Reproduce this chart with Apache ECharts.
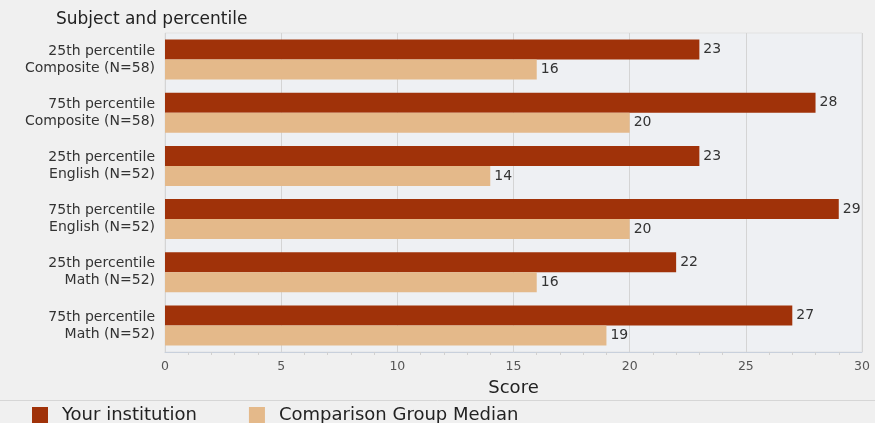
<!DOCTYPE html>
<html>
<head>
<meta charset="utf-8">
<script src="https://cdn.jsdelivr.net/npm/echarts@6/dist/echarts.min.js"></script>
<style>
  html, body { margin: 0; padding: 0; background: #f0f0f0; }
  #chart { width: 875px; height: 423px; }
</style>
</head>
<body>
<div id="chart"></div>
<script>
// Subject / percentile groups, top to bottom
const categories = [
  '25th percentile\nComposite (N=58)',
  '75th percentile\nComposite (N=58)',
  '25th percentile\nEnglish (N=52)',
  '75th percentile\nEnglish (N=52)',
  '25th percentile\nMath (N=52)',
  '75th percentile\nMath (N=52)'
];
const yourInstitution = [23, 28, 23, 29, 22, 27];
const comparisonMedian = [16, 20, 14, 20, 16, 19];
const xTicks = [0, 5, 10, 15, 20, 25, 30];

const chart = echarts.init(document.getElementById('chart'), null, { renderer: 'canvas' });
const font = 'DejaVu Sans, Verdana, sans-serif';

chart.setOption({
  backgroundColor: '#f0f0f0',
  animation: false,
  textStyle: { fontFamily: font },
  grid: {
    left: 165, right: 13, top: 33, bottom: 71,
    show: true, backgroundColor: '#eef0f3', borderColor: '#e2e2e2', borderWidth: 1
  },
  title: {
    text: 'Subject and percentile',
    left: 51, top: 6,
    textStyle: { fontFamily: font, fontSize: 17, fontWeight: 'normal', color: '#222' }
  },
  legend: {
    top: 401, left: 27, itemGap: 52,
    itemWidth: 16, itemHeight: 16,
    icon: 'rect',
    textStyle: { fontFamily: font, fontSize: 18, color: '#222', padding: [0, 0, 0, 9] },
    data: ['Your institution', 'Comparison Group Median']
  },
  graphic: [{
    type: 'line', shape: { x1: 0, y1: 400.5, x2: 875, y2: 400.5 },
    style: { stroke: '#d6d6d6', lineWidth: 1 }, silent: true
  }],
  xAxis: {
    type: 'value', min: 0, max: 30, interval: 5,
    name: 'Score', nameLocation: 'middle', nameGap: 27,
    nameTextStyle: { fontFamily: font, fontSize: 18, color: '#222' },
    axisLine: { show: true, lineStyle: { color: '#c8d0dc' } },
    axisTick: { show: false },
    minorTick: { show: true, splitNumber: 5, length: 3, lineStyle: { color: '#d0d0d0' } },
    axisLabel: {
      fontFamily: font, fontSize: 12.5, color: '#555', margin: 8,
      formatter: v => xTicks.includes(v) ? String(v) : ''
    },
    splitLine: { show: true, lineStyle: { color: '#d4d4d4', width: 1 } }
  },
  yAxis: {
    type: 'category', inverse: true, data: categories,
    axisLine: { show: false }, axisTick: { show: false },
    axisLabel: { fontFamily: font, fontSize: 14, color: '#333', lineHeight: 17, margin: 10 },
    splitLine: { show: false }
  },
  series: [
    {
      name: 'Your institution', type: 'bar', data: yourInstitution,
      barWidth: 20, barGap: '0%',
      itemStyle: { color: '#a03209' },
      label: { show: true, position: 'right', distance: 4, fontFamily: font, fontSize: 14, color: '#333' }
    },
    {
      name: 'Comparison Group Median', type: 'bar', data: comparisonMedian,
      barWidth: 20, barGap: '0%',
      itemStyle: { color: '#e4b98a' },
      label: { show: true, position: 'right', distance: 4, fontFamily: font, fontSize: 14, color: '#333' }
    }
  ]
});
</script>
</body>
</html>
